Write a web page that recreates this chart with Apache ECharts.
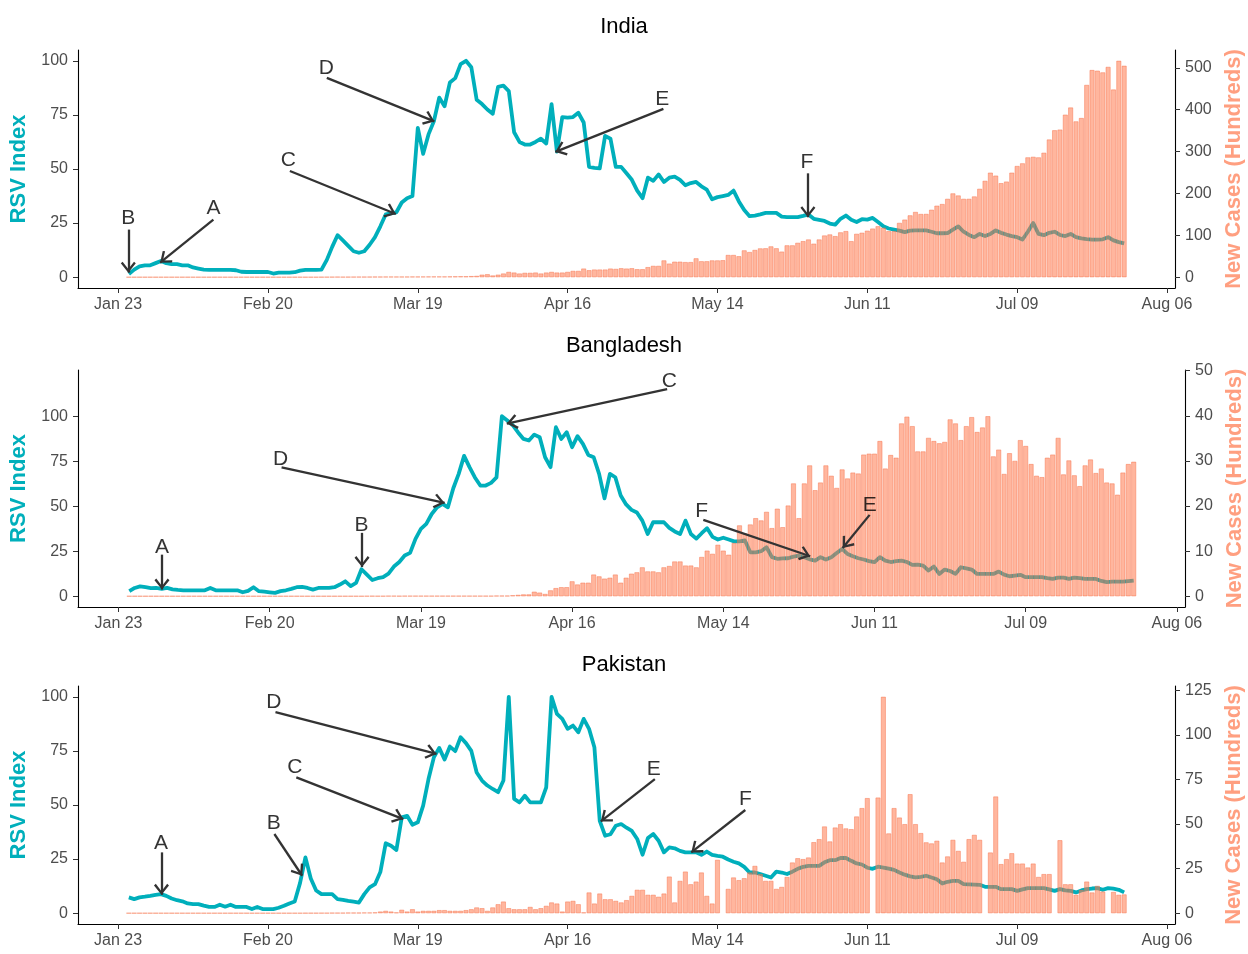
<!DOCTYPE html>
<html><head><meta charset="utf-8">
<script src="https://cdn.jsdelivr.net/npm/echarts@6/dist/echarts.min.js"></script>
<style>html,body{margin:0;padding:0;background:#fff}#c{width:1248px;height:954px}</style>
</head><body><div id="c"></div>
<script>
// x values are days after Jan 23, 2020; data start on day 2 (Jan 25)
const startDay = 2;
const tickDays = [0, 28, 56, 84, 112, 140, 168, 196];
const tickLabels = ['Jan 23', 'Feb 20', 'Mar 19', 'Apr 16', 'May 14', 'Jun 11', 'Jul 09', 'Aug 06'];
const countries = ['India', 'Bangladesh', 'Pakistan'];
const leftTicks = [0, 25, 50, 75, 100];
const indiaRightTicks = [0, 100, 200, 300, 400, 500];
const bangladeshRightTicks = [0, 10, 20, 30, 40, 50];
const pakistanRightTicks = [0, 25, 50, 75, 100, 125];

const indiaRSV = [
1.5,3.5,5,5.5,5.5,6.5,7.5,6.5,6,6,
5.5,5.5,4.5,4,3.5,3.4,3.4,3.4,3.4,3.4,
3.2,2.5,2.4,2.4,2.4,2.4,2.4,1.7,2.1,2.1,
2.1,2.3,3.0,3.4,3.4,3.4,3.5,8,14,19.4,
17,14.5,12,11.3,12,15,18.5,23.5,29,29.5,
30,34.5,36.5,37.5,69,57,66,72,83,79,
90,92,98.5,100,97,82,80,77.5,75.5,88,
88.5,86,67,62.5,61.3,61.3,62.5,64,61.8,80,
58,74,73.7,74,76,71.5,51,50.5,50.3,65.3,
64,51,51,48,45,40,36.5,46,44.5,47.5,
44,46,46.5,45,42.5,43.5,44,42,40.5,36,
37,37.5,38,40,35,31,28.2,28.5,29,29.7,
29.7,29.7,28,27.8,27.8,27.8,28.3,29,27,26.5,
26,24.8,24.3,27,28.5,26.5,25.5,26.8,26.6,27.4,
25.5,23.5,22.5,22,21.5,20.8,21.5,21.6,21.6,21.6,
21,20.3,20.3,20.4,22,23.5,21,19.5,18.5,20,
19,20,21.6,20.5,19.7,19,18.5,17.4,21,25,
20,19.4,20.5,21,19.5,19,20,18.5,17.9,17.6,
17.4,17.4,17.5,18.5,17,16.2,15.6];
const indiaCases = [
0,0,0,0,0,0,0,0,0,0,
0,0,0,0,0,0,0,0,0,0,
0,0,0,0,0,0,0,0,0,0,
0,0,0,0,0,0,0.1,0.2,0.3,0.5,
0.3,0.4,0.5,0.6,0.6,0.7,0.8,0.8,1,1,
1,1,1,1.2,1.2,1.3,1.4,1.5,1.5,1.5,
1.6,1.8,2,2,2.5,3,6,7,4,6,
8.7,12.6,11,8.7,10.3,10.3,11,8.7,11,12.6,
11,11,12.6,15,15,20.5,16.6,18.2,18.2,18.2,
20.5,19.7,21.3,20.5,21.3,19,19,24,27,27,
40,32.4,37,37,36,36,45,38,38,40,
40,40.5,53,53,50,64,60,65,68.7,69,
73.5,69,61,76,76,82,86,90,80,90,
99.5,102,98,107,110,86,103.5,106,111,116,
121.6,118,110,110,129.6,137.4,147.6,155.7,150.9,151,
161,170.6,174.6,187,200,195,187,187,192.7,211,
230,249.5,242.4,224.4,228.2,249.5,265.4,271.8,286,287.4,
286,297,328.6,350.7,352.4,388,405,372,380,459,
494.5,493,489,502,448,516.6,504.7];

const bangladeshRSV = [
2.8,4.6,5.5,5,4.5,4.6,4.1,4.6,3.8,3.5,
3.3,3.3,3.3,3.3,3.3,4.6,3.3,3.3,3.3,3.3,
3.3,2.2,3,5,2.8,2.5,2.2,1.9,2.8,3.3,
4.1,5,5.2,4.6,3.7,4.6,4.6,4.6,5,6.5,
8.3,5.6,7.4,15,12,9,10,10.6,12.5,16.5,
19,22.6,24.1,31.9,37.4,40.2,45.7,49.4,51.3,49.4,
60,68,78,71.7,66,61.5,61.5,63,66,100,
97.6,95,91,87.4,86.5,89.8,88.3,77.2,71.7,93.9,
87.4,91.1,82.8,88.9,84.6,78.5,77.2,68,54.4,68,
66.1,56,51,48,46.5,42,34.6,41.1,41.1,41.1,
38,36,34.6,42,34.6,32,35,37.8,33,31.5,
32.5,31.5,30.5,30.5,31,24.4,24.4,25,27.2,21.7,
20.8,21,21.1,22,22.5,21.7,20.5,19.8,21.7,20.4,
21.7,24,26.3,23.5,22.2,21.1,20.4,19.5,18.9,21.7,
19.8,19,19.5,19.8,19,17.4,17.5,17,14.3,16.5,
12.4,14.8,14,12.4,16.1,15.5,14.8,12.4,12.4,12.4,
12.4,13.7,12,11.1,11.5,11.9,10.6,10.6,10.6,10.6,
10,9.6,10.3,10.3,9.6,10.3,10,9.6,9.6,9.6,
8.5,7.8,8.1,8.1,8.1,8.4,8.7];
const bangladeshCases = [
0,0,0,0,0,0,0,0,0,0,
0,0,0,0,0,0,0,0,0,0,
0,0,0,0,0,0,0,0,0,0,
0,0,0,0,0,0,0,0,0,0,
0,0,0,0,0.02,0.03,0.02,0.02,0.05,0.05,
0.03,0.05,0.05,0.05,0.05,0.05,0.05,0.05,0.05,0.05,
0.05,0.05,0.05,0.05,0.05,0.05,0.05,0.05,0.1,0.1,
0.1,0.2,0.3,0.4,0.4,1.0,0.8,0.5,1.3,1.8,
2,2,3.3,2.6,3,3,4.8,4.4,3.9,4.1,
4.8,3,4.1,5,5.3,6.4,5.5,5.5,5.3,6.4,
6.7,7.7,7.7,6.8,6.8,6.4,8.7,10.1,9.4,11.4,
10.1,9.2,11.8,15.7,13.9,15.9,17.3,16.8,18.7,15.1,
19.4,15.3,20.1,25,17.3,25,29,23.5,25.2,29,
26.7,24,28.1,26.1,27.4,27.2,31.4,31.6,31.6,34.4,
28.3,31.3,30.7,38.3,39.8,37.7,32.1,32.1,35.1,34.4,
33.9,34.2,39.2,38.3,34.6,37.7,39.7,36.4,37.4,39.9,
31,32.5,27.1,31.7,30,34.6,33.3,29.3,26.7,26.4,
30.7,31.4,35.1,27,30.1,26.8,24.4,29,30.3,27.3,
28.3,25.2,25,22.5,27.4,29.3,29.8];

const pakistanRSV = [
7.3,6.5,7.3,7.6,8,8.5,8.8,8,6.8,6,
5.5,4.5,4.2,4.2,3.5,2.9,2.9,3.9,3,3.9,
2.9,2.9,2.9,1.9,2.9,1.9,1.9,1.9,2.5,3.4,
4.5,5.4,14,25.8,16,10.5,8.8,8.8,8.8,6.5,
6.2,5.7,5.3,4.9,8.8,11.9,13.4,19,32.3,31.2,
29.2,44.3,45,40.9,42,49.7,62,72,76.4,71,
77,74.9,81.3,78.6,75,65,61.3,59,57.4,55.9,
61.3,100,52.8,51.2,54.3,51.2,51.2,51.2,58.2,100,
92.1,89.8,85.2,86.7,83.6,89.8,85.2,76.7,42.7,35.8,
36.5,40.4,41.2,39.5,38,34.3,27,34.7,36.6,33.5,
28.1,30.4,30,28.8,28.1,28.1,28.1,27,28.5,27,
26.5,26.1,24.8,23.8,23,21.4,18.8,18.8,18.1,17.3,
16.5,19.2,18.8,18.1,19.2,20.5,21.4,21.9,21.9,21.9,
23.5,24.5,24.5,25.5,25.5,24.2,23,22.5,21,20.5,
21.5,21.1,20.6,20,18.8,17.8,17,16.5,16.8,17.3,
16.5,15.7,13.7,14.5,14.9,14.9,13.4,13.3,13.2,13.1,
12.2,12.2,12.2,11.1,11.1,11.1,10.3,11,11.6,11.6,
11.6,11.6,11,10.3,11.1,10.5,10.3,9.6,10.5,11.1,
11.4,11.6,10.8,11.6,11.3,10.8,9.6];
const pakistanCases = [
0,0,0,0,0,0,0,0,0,0,
0,0,0,0,0,0,0,0,0,0,
0,0,0,0,0,0,0,0,0,0,
0,0,0,0.02,0.02,0.02,0.05,0.05,0.1,0.1,
0.1,0.2,0.2,0.2,0.3,0.3,0.4,0.9,1.3,0.9,
0.4,1.9,0.9,2.2,0.9,1.3,1.3,1.3,1.7,1.7,
1.3,1.3,1.3,1.7,2.2,3.2,2.8,1.3,3.2,5,
6.5,2.8,2.2,2.2,2.2,3.5,2.2,2.8,4.1,6,
5.4,0.9,6.5,6.9,5,0.4,11.6,5.4,11,7.8,
7.8,6.9,6,7.3,9.7,13.1,13.1,10.3,10.3,9.2,
11,20.5,6,18.1,23.3,16.2,17.7,22.8,9.7,5.4,
29.9,null,13.6,20,18.5,19.6,22.8,26.5,21.9,18.1,
18.1,13.6,14.7,20.3,28.4,30.8,30.3,31.2,39.8,41.5,
48.6,40.2,48,49.9,47.5,47.1,54.2,58.9,64.5,null,
64.8,121.3,44.7,58.9,53.6,49.9,66.7,49.9,44.9,39.7,
39.1,40.6,28.4,31.8,41.1,34.9,28.8,41.5,43.9,41.1,
null,34,65.4,27.5,30.3,33.6,27.8,27.8,25.6,27.8,
20.3,21.9,21.9,null,40.9,16.2,16.2,10.3,12.9,17.7,
11.6,15.3,12.1,null,11.9,10.3,10.5];

// annotations in data units: [day, RSV index]
const indiaNotes = [
  {label: 'A', text: [17.8, 32.0], from: [17.8, 26.6], to: [7.85, 6.7]},
  {label: 'B', text: [1.9, 27.4], from: [1.9, 22.0], to: [1.9, 2.1]},
  {label: 'C', text: [31.8, 54.1], from: [32.1, 49.1], to: [51.9, 29.2]},
  {label: 'D', text: [38.9, 96.5], from: [39.0, 92.1], to: [59.1, 72.0]},
  {label: 'E', text: [101.7, 82.4], from: [101.9, 77.8], to: [81.7, 57.9]},
  {label: 'F', text: [128.7, 53.3], from: [128.9, 48.0], to: [128.9, 27.7]}
];
const bangladeshNotes = [
  {label: 'A', text: [8.05, 27.3], from: [8.05, 23.1], to: [8.05, 3.7]},
  {label: 'B', text: [45.0, 39.3], from: [45.1, 35.2], to: [45.1, 16.2]},
  {label: 'C', text: [102.0, 119.7], from: [101.6, 115.1], to: [71.9, 95.9]},
  {label: 'D', text: [30.0, 76.0], from: [30.2, 71.6], to: [60.4, 51.8]},
  {label: 'E', text: [139.1, 50.8], from: [139.1, 45.2], to: [134.1, 26.8]},
  {label: 'F', text: [108.0, 47.4], from: [108.3, 42.4], to: [128.1, 22.2]}
];
const pakistanNotes = [
  {label: 'A', text: [8.0, 32.3], from: [8.1, 28.1], to: [8.1, 8.5]},
  {label: 'B', text: [29.1, 41.5], from: [29.2, 36.6], to: [34.4, 17.3]},
  {label: 'C', text: [33.0, 67.5], from: [33.3, 62.8], to: [53.3, 43.5]},
  {label: 'D', text: [29.1, 97.5], from: [29.4, 92.9], to: [59.5, 73.6]},
  {label: 'E', text: [100.1, 66.7], from: [100.3, 62.0], to: [90.2, 42.4]},
  {label: 'F', text: [117.2, 52.8], from: [117.2, 47.7], to: [107.1, 28.1]}
];

const FONT = '"Liberation Sans", Arial, Helvetica, sans-serif';
const TEAL = '#00AFBB';
const SALMON = '#FF9F80';
// open arrow head, tip at the centre of a 22x22 box (tiny corner dots fix the box)
const CHEVRON = 'path://M0,0 L0.05,0 L0,0.05 Z M22,0 L21.95,0 L22,0.05 Z ' +
  'M3.5,20.4 L11,11 L18.5,20.4 L16.7,22 L11,14.6 L5.3,22 Z';

const panels = [
  {rsv: indiaRSV, cases: indiaCases, notes: indiaNotes, rightTicks: indiaRightTicks, top: 50, height: 238, right: 73, titleTop: 11},
  {rsv: bangladeshRSV, cases: bangladeshCases, notes: bangladeshNotes, rightTicks: bangladeshRightTicks, top: 370, height: 237, right: 63, titleTop: 330},
  {rsv: pakistanRSV, cases: pakistanCases, notes: pakistanNotes, rightTicks: pakistanRightTicks, top: 686, height: 238, right: 73, titleTop: 649}
];

const xMin = startDay - 9.5;
const xMax = startDay + indiaRSV.length - 1 + 9.5;

const grids = [], xAxes = [], yAxes = [], series = [], titles = [];
panels.forEach((p, i) => {
  titles.push({text: countries[i], left: 'center', top: p.titleTop,
    textStyle: {fontSize: 22, fontWeight: 'normal', color: '#000', fontFamily: FONT}});
  grids.push({left: 78, right: p.right, top: p.top, height: p.height, containLabel: false, outerBoundsMode: 'none'});
  xAxes.push({
    type: 'value', gridIndex: i, min: xMin, max: xMax,
    axisLine: {onZero: false, lineStyle: {color: '#000', width: 1.1}},
    axisTick: {length: 5, customValues: tickDays, lineStyle: {color: '#333'}},
    axisLabel: {customValues: tickDays, formatter: v => tickLabels[tickDays.indexOf(v)] || '',
      color: '#4D4D4D', fontSize: 16, margin: 9, fontFamily: FONT},
    splitLine: {show: false}
  });
  const top = Math.max(100, ...p.notes.map(n => n.text[1]));
  const lo = -0.05 * top, hi = 1.05 * top;
  const k = Math.max(...p.cases.filter(v => v != null)) / 100;
  yAxes.push({
    type: 'value', gridIndex: i, position: 'left', min: lo, max: hi,
    name: 'RSV Index', nameLocation: 'middle', nameGap: 44,
    nameTextStyle: {color: TEAL, fontWeight: 'bold', fontSize: 22, fontFamily: FONT},
    axisLine: {show: true, onZero: false, lineStyle: {color: '#000', width: 1.1}},
    axisTick: {show: true, length: 5, customValues: leftTicks, lineStyle: {color: '#333'}},
    axisLabel: {customValues: leftTicks, color: '#4D4D4D', fontSize: 16, margin: 10, fontFamily: FONT},
    splitLine: {show: false}
  });
  yAxes.push({
    type: 'value', gridIndex: i, position: 'right', min: lo * k, max: hi * k,
    name: 'New Cases (Hundreds)', nameLocation: 'middle', nameGap: i === 1 ? 38 : 48,
    nameTextStyle: {color: SALMON, fontWeight: 'bold', fontSize: 22, fontFamily: FONT},
    axisLine: {show: true, onZero: false, lineStyle: {color: '#000', width: 1.1}},
    axisTick: {show: true, length: 5, customValues: p.rightTicks, lineStyle: {color: '#333'}},
    axisLabel: {customValues: p.rightTicks, color: '#4D4D4D', fontSize: 16, margin: 10, fontFamily: FONT},
    splitLine: {show: false}
  });
  series.push({
    type: 'line', xAxisIndex: i, yAxisIndex: 2 * i, z: 2, silent: true,
    data: p.rsv.map((v, j) => [startDay + j, v]),
    showSymbol: false, symbol: 'none',
    lineStyle: {color: TEAL, width: 3.8, join: 'round'}
  });
  series.push({
    type: 'bar', xAxisIndex: i, yAxisIndex: 2 * i + 1, z: 3, silent: true,
    data: p.cases.map((v, j) => [startDay + j, v]),
    barWidth: '90%',
    itemStyle: {color: 'rgba(255,122,78,0.55)', borderColor: 'rgba(245,110,70,0.75)', borderWidth: 0.6}
  });
  series.push({
    type: 'scatter', xAxisIndex: i, yAxisIndex: 2 * i, z: 5, silent: true,
    symbolSize: 1,
    itemStyle: {color: 'rgba(0,0,0,0)'},
    data: p.notes.map(n => ({name: n.label, value: n.text})),
    label: {show: true, position: 'inside', formatter: '{b}', color: '#000', fontSize: 21, fontFamily: FONT},
    markLine: {
      silent: true, animation: false,
      symbol: ['none', CHEVRON],
      symbolSize: 22,
      lineStyle: {color: '#333', width: 2.3, type: 'solid', opacity: 1},
      itemStyle: {color: '#333'},
      label: {show: false},
      data: p.notes.map(n => [{coord: n.from}, {coord: n.to}])
    }
  });
});

const chart = echarts.init(document.getElementById('c'), null, {renderer: 'canvas'});
chart.setOption({
  animation: false,
  backgroundColor: '#fff',
  title: titles,
  grid: grids,
  xAxis: xAxes,
  yAxis: yAxes,
  series: series
});
</script>
</body></html>
